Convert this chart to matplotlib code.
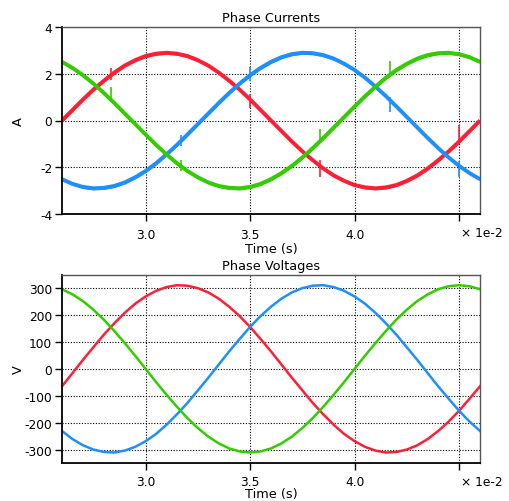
import matplotlib
matplotlib.use("Agg")
import matplotlib.pyplot as plt
import numpy as np

plt.rcParams['font.family'] = ['DejaVu Sans']
plt.rcParams['axes.unicode_minus'] = False

# sample times (ms)
time_ms = [26.0, 26.5, 27.0, 27.5, 28.0, 28.5, 29.0, 29.5, 30.0, 30.5,
           31.0, 31.5, 32.0, 32.5, 33.0, 33.5, 34.0, 34.5, 35.0, 35.5,
           36.0, 36.5, 37.0, 37.5, 38.0, 38.5, 39.0, 39.5, 40.0, 40.5,
           41.0, 41.5, 42.0, 42.5, 43.0, 43.5, 44.0, 44.5, 45.0, 45.5, 46.0]

# phase currents (A)
ia = [0.0, 0.45, 0.90, 1.32, 1.70, 2.05, 2.35, 2.58, 2.76, 2.86,
      2.90, 2.86, 2.76, 2.58, 2.35, 2.05, 1.70, 1.32, 0.90, 0.45,
      0.0, -0.45, -0.90, -1.32, -1.70, -2.05, -2.35, -2.58, -2.76, -2.86,
      -2.90, -2.86, -2.76, -2.58, -2.35, -2.05, -1.70, -1.32, -0.90, -0.45, 0.0]
ib = [-2.51, -2.71, -2.84, -2.90, -2.88, -2.80, -2.65, -2.43, -2.16, -1.83,
      -1.45, -1.04, -0.60, -0.15, 0.30, 0.75, 1.18, 1.58, 1.94, 2.25,
      2.51, 2.71, 2.84, 2.90, 2.88, 2.80, 2.65, 2.43, 2.16, 1.83,
      1.45, 1.04, 0.60, 0.15, -0.30, -0.75, -1.18, -1.58, -1.94, -2.25, -2.51]
ic = [2.51, 2.25, 1.94, 1.58, 1.18, 0.75, 0.30, -0.15, -0.60, -1.04,
      -1.45, -1.83, -2.16, -2.43, -2.65, -2.80, -2.88, -2.90, -2.84, -2.71,
      -2.51, -2.25, -1.94, -1.58, -1.18, -0.75, -0.30, 0.15, 0.60, 1.04,
      1.45, 1.83, 2.16, 2.43, 2.65, 2.80, 2.88, 2.90, 2.84, 2.71, 2.51]

# switching spikes on currents: time (ms), low (A), high (A)
spike_a_t = [28.33, 35.0, 38.33, 45.0]
spike_a_lo = [1.75, 0.55, -2.40, -0.95]
spike_a_hi = [2.25, 1.15, -1.70, -0.20]
spike_b_t = [31.67, 35.0, 41.67, 45.0]
spike_b_lo = [-1.10, 1.70, 0.38, -2.40]
spike_b_hi = [-0.60, 2.30, 1.00, -1.75]
spike_c_t = [28.33, 31.67, 38.33, 41.67]
spike_c_lo = [0.80, -2.15, -0.95, 1.85]
spike_c_hi = [1.45, -1.70, -0.35, 2.55]

# phase voltages (V)
va = [-65, -16, 33, 80, 127, 169, 208, 242, 269, 290,
      304, 311, 309, 300, 284, 261, 231, 196, 156, 111,
      65, 16, -33, -80, -127, -169, -208, -242, -269, -290,
      -304, -311, -309, -300, -284, -261, -231, -196, -156, -111, -65]
vb = [-231, -261, -284, -300, -309, -311, -304, -290, -269, -242,
      -208, -169, -127, -80, -33, 16, 65, 111, 156, 196,
      231, 261, 284, 300, 309, 311, 304, 290, 269, 242,
      208, 169, 127, 80, 33, -16, -65, -111, -156, -196, -231]
vc = [296, 277, 252, 220, 183, 141, 96, 49, 0, -49,
      -96, -141, -183, -220, -252, -277, -296, -307, -311, -307,
      -296, -277, -252, -220, -183, -141, -96, -49, 0, 49,
      96, 141, 183, 220, 252, 277, 296, 307, 311, 307, 296]

xticks = [3.0, 3.5, 4.0, 4.5]
xtick_labels = ['3.0', '3.5', '4.0', '']
cur_ticks = [-4, -2, 0, 2, 4]
volt_ticks = [-300, -200, -100, 0, 100, 200, 300]

RED = '#FF1F35'
GREEN = '#33CC00'
BLUE = '#1E8FFF'

t = np.array(time_ms) / 10.0  # in units of 1e-2 s

fig = plt.figure(figsize=(5.10, 5.02), dpi=100)
ax1 = fig.add_axes([62/510, 1-215/502, 418/510, 187/502])
ax2 = fig.add_axes([62/510, 1-464/502, 418/510, 188.3/502])

FS = 8.8

def style(ax, xpad, lpad):
    ax.set_xlim(2.6, 4.6)
    ax.set_xticks(xticks)
    ax.set_xticklabels(xtick_labels)
    ax.grid(True, color='black', linestyle=(0, (1, 1.5)), linewidth=0.8)
    ax.set_axisbelow(True)
    for s in ['left', 'bottom']:
        ax.spines[s].set_color('black')
        ax.spines[s].set_linewidth(1.3)
    for s in ['top', 'right']:
        ax.spines[s].set_color('#555555')
        ax.spines[s].set_linewidth(1.0)
    ax.tick_params(axis='y', direction='out', length=5, width=1,
                   labelsize=FS, pad=2)
    ax.tick_params(axis='x', direction='out', length=5, width=1,
                   labelsize=FS, pad=xpad)
    ax.set_xlabel('Time (s)', fontsize=FS + 0.5, labelpad=lpad)
    ax.annotate('\u00d7 1e-2', xy=(1.0, 0.0), xycoords='axes fraction',
                xytext=(16, -13), textcoords='offset points',
                ha='right', va='center', fontsize=FS)

# currents
for y, c, st, slo, shi in [(ia, RED, spike_a_t, spike_a_lo, spike_a_hi),
                           (ib, BLUE, spike_b_t, spike_b_lo, spike_b_hi),
                           (ic, GREEN, spike_c_t, spike_c_lo, spike_c_hi)]:
    y = np.array(y)
    ax1.fill_between(t, y - 0.07, y + 0.07, color=c, linewidth=0)
    ax1.plot(t, y, color=c, linewidth=2.8, solid_capstyle='butt')
    ax1.vlines(np.array(st) / 10.0, slo, shi, color=c, linewidth=1.2)

ax1.set_ylim(-4, 4)
ax1.set_yticks(cur_ticks)
ax1.set_ylabel('A', fontsize=FS + 0.5, labelpad=11)
ax1.set_title('Phase Currents', fontsize=FS + 0.5, pad=4)
style(ax1, 5, 1)

# voltages
for y, c in [(va, RED), (vb, BLUE), (vc, GREEN)]:
    ax2.plot(t, y, color=c, linewidth=1.8)
ax2.set_ylim(-350, 350)
ax2.set_yticks(volt_ticks)
ax2.set_ylabel('V', fontsize=FS + 0.5, labelpad=0)
ax2.set_title('Phase Voltages', fontsize=FS + 0.5, pad=4)
style(ax2, 4, -1)

fig.savefig('out.png', dpi=100)
